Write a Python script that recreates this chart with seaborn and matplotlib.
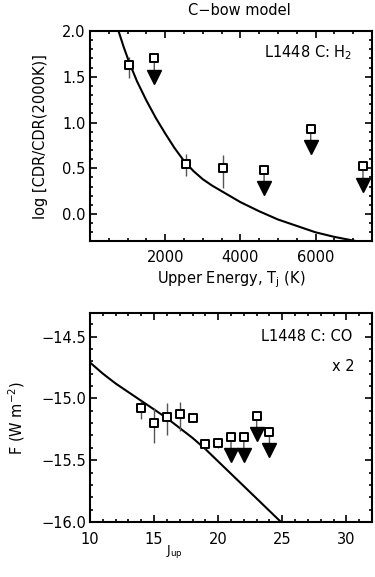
import numpy as np
import pandas as pd
import matplotlib
matplotlib.use("Agg")
import matplotlib.pyplot as plt
import matplotlib.transforms as mtransforms
from matplotlib.ticker import MultipleLocator
import seaborn as sns

# ---------------- data ----------------
# top panel: H2
h2_energy = [1050, 1710, 2540, 3530, 4630, 5870, 7260]
h2_logcdr = [1.63, 1.70, 0.55, 0.50, 0.48, 0.93, 0.52]
h2_err_lo = [0.14, 0.0, 0.13, 0.22, 0.0, 0.0, 0.0]
h2_err_hi = [0.09, 0.0, 0.11, 0.14, 0.0, 0.0, 0.0]
h2_upper = [False, True, False, False, True, True, True]
h2_model_x = [750, 900, 1050, 1250, 1500, 1750, 2000, 2250, 2500, 2750, 3000, 3250,
              3500, 3750, 4000, 4500, 5000, 5500, 6000, 6500, 7000, 7250]
h2_model_y = [2.01, 1.82, 1.65, 1.45, 1.24, 1.05, 0.88, 0.72, 0.58, 0.47, 0.38, 0.31,
              0.25, 0.19, 0.13, 0.03, -0.06, -0.13, -0.20, -0.25, -0.29, -0.31]

# bottom panel: CO
co_j = [14, 15, 16, 17, 18, 19, 20, 21, 22, 23, 24]
co_flux = [-15.08, -15.20, -15.15, -15.13, -15.16, -15.37, -15.36, -15.31, -15.31, -15.14, -15.27]
co_err_lo = [0.09, 0.16, 0.15, 0.13, 0.02, 0.04, 0.04, 0.0, 0.0, 0.0, 0.0]
co_err_hi = [0.06, 0.12, 0.11, 0.10, 0.02, 0.04, 0.04, 0.0, 0.0, 0.0, 0.0]
co_upper = [False, False, False, False, False, False, False, True, True, True, True]
co_model_x = [10, 11, 12, 13, 14, 15, 16, 17, 18, 19, 20, 21, 22, 23, 24, 24.9]
co_model_y = [-14.71, -14.80, -14.88, -14.95, -15.02, -15.09, -15.16, -15.24, -15.32,
              -15.41, -15.51, -15.61, -15.71, -15.81, -15.91, -16.0]

# ---------------- style ----------------
sns.set_style("ticks")
plt.rcParams["font.family"] = ["DejaVu Sans"]
plt.rcParams["mathtext.default"] = "regular"
plt.rcParams["font.size"] = 10.5
plt.rcParams["text.color"] = "black"
plt.rcParams["axes.labelcolor"] = "black"
plt.rcParams["axes.edgecolor"] = "black"
plt.rcParams["xtick.color"] = "black"
plt.rcParams["ytick.color"] = "black"
plt.rcParams["xtick.labelcolor"] = "black"
plt.rcParams["ytick.labelcolor"] = "black"
plt.rcParams["axes.linewidth"] = 1.5
plt.rcParams["xtick.direction"] = "in"
plt.rcParams["ytick.direction"] = "in"
plt.rcParams["xtick.top"] = True
plt.rcParams["ytick.right"] = True
plt.rcParams["xtick.major.size"] = 5
plt.rcParams["ytick.major.size"] = 5
plt.rcParams["xtick.minor.size"] = 2.5
plt.rcParams["ytick.minor.size"] = 2.5
plt.rcParams["xtick.major.width"] = 1.2
plt.rcParams["ytick.major.width"] = 1.2
plt.rcParams["xtick.minor.width"] = 1.2
plt.rcParams["ytick.minor.width"] = 1.2

fig = plt.figure(figsize=(3.75, 5.77), dpi=100)
ax1 = fig.add_axes([0.24, 0.5815, 0.752, 0.3648])
ax2 = fig.add_axes([0.24, 0.0953, 0.752, 0.3622])

ERR_COLOR = "#555555"
ARROW_PX = 25.0
TRI_MS = 9.5


def draw_panel(ax, xs, ys, elo, ehi, upper, mx, my):
    sns.lineplot(x=mx, y=my, ax=ax, color="black", lw=1.5, sort=False,
                 estimator=None, zorder=2)
    xs = np.asarray(xs, float)
    ys = np.asarray(ys, float)
    elo = np.asarray(elo, float)
    ehi = np.asarray(ehi, float)
    upper = np.asarray(upper, bool)
    det = ~upper
    ax.errorbar(xs[det], ys[det], yerr=[elo[det], ehi[det]], fmt="none",
                ecolor=ERR_COLOR, elinewidth=1.0, capsize=0, zorder=3)
    pt = ARROW_PX * 72.0 / fig.dpi
    tri_off = (ARROW_PX - 0.5 * TRI_MS * fig.dpi / 72.0) * 72.0 / fig.dpi
    tri_trans = mtransforms.offset_copy(ax.transData, fig=fig, x=0, y=-tri_off, units="points")
    for x, y in zip(xs[upper], ys[upper]):
        ax.annotate("", xy=(x, y), xycoords="data", xytext=(0, -pt + 4),
                    textcoords="offset points",
                    arrowprops=dict(arrowstyle="-", color=ERR_COLOR, lw=1.0,
                                    shrinkA=0, shrinkB=0), zorder=3)
        ax.plot([x], [y], marker="v", ms=TRI_MS, color="black", mec="black",
                transform=tri_trans, clip_on=False, zorder=4)
    df = pd.DataFrame({"x": xs, "y": ys})
    sns.scatterplot(data=df, x="x", y="y", ax=ax, marker="s", s=40,
                    facecolor="white", edgecolor="black", linewidth=1.4, zorder=5)


draw_panel(ax1, h2_energy, h2_logcdr, h2_err_lo, h2_err_hi, h2_upper, h2_model_x, h2_model_y)
draw_panel(ax2, co_j, co_flux, co_err_lo, co_err_hi, co_upper, co_model_x, co_model_y)

# top axes
ax1.set_xlim(0, 7500)
ax1.set_ylim(-0.3, 2.0)
ax1.xaxis.set_minor_locator(MultipleLocator(500))
ax1.yaxis.set_minor_locator(MultipleLocator(0.1))
ax1.set_xticks([2000, 4000, 6000])
ax1.set_xticklabels(["2000", "4000", "6000"])
ax1.set_yticks([0.0, 0.5, 1.0, 1.5, 2.0])
ax1.set_yticklabels(["0.0", "0.5", "1.0", "1.5", "2.0"])
ax1.tick_params(which="both", top=True, right=True, colors="black")
ax1.tick_params(axis="x", pad=6)
ax1.tick_params(axis="y", pad=3)
ax1.set_xlabel("Upper Energy, T$_j$ (K)", labelpad=3, color="black")
ax1.set_ylabel("log [CDR/CDR(2000K)]", color="black")
ax1.yaxis.set_label_coords(-0.15, 0.5)
ax1.text(0.93, 0.94, "L1448 C: H$_2$", transform=ax1.transAxes, ha="right", va="top",
         color="black")

# bottom axes
ax2.set_xlim(10, 32)
ax2.set_ylim(-16.0, -14.31)
ax2.xaxis.set_minor_locator(MultipleLocator(1))
ax2.yaxis.set_minor_locator(MultipleLocator(0.1))
ax2.set_yticks([-16.0, -15.5, -15.0, -14.5])
ax2.set_yticklabels(["\u221216.0", "\u221215.5", "\u221215.0", "\u221214.5"])
ax2.set_xticks([10, 15, 20, 25, 30])
ax2.set_xticklabels(["10", "15", "20", "25", "30"])
ax2.tick_params(which="both", top=True, right=True, colors="black")
ax2.tick_params(axis="x", pad=7)
ax2.tick_params(axis="y", pad=3)
ax2.set_xlabel("J$_{up}$", fontsize=9, color="black")
ax2.xaxis.set_label_coords(0.30, -0.10)
ax2.set_ylabel("F (W m$^{-2}$)", color="black")
ax2.yaxis.set_label_coords(-0.225, 0.5)
ax2.text(0.93, 0.925, "L1448 C: CO", transform=ax2.transAxes, ha="right", va="top",
         color="black")
ax2.text(0.94, 0.78, "x 2", transform=ax2.transAxes, ha="right", va="top", color="black")

for ax in (ax1, ax2):
    for sp in ax.spines.values():
        sp.set_visible(True)
        sp.set_linewidth(1.5)
        sp.set_color("black")

fig.text(0.637, 0.995, "C\u2212bow model", ha="center", va="top", fontsize=10.5,
         color="black")

fig.savefig("out.png", dpi=100)
